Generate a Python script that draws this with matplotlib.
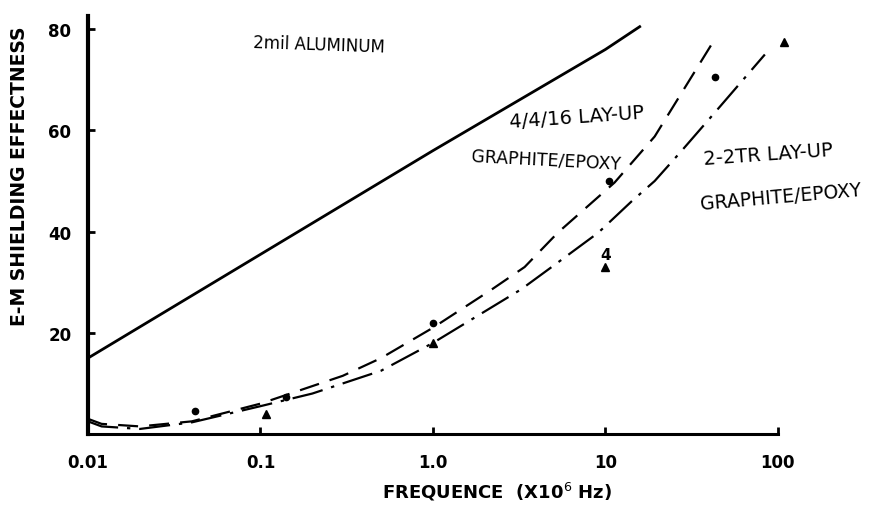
import matplotlib
matplotlib.use('Agg')
import matplotlib.pyplot as plt

# 2 mil aluminum reference line
al_freq = [0.01, 0.1, 1.0, 10, 15.8]
al_se = [15, 35.5, 56, 76, 80.5]

# 4/4/16 lay-up graphite/epoxy (dashed)
lay4_freq = [0.01, 0.012, 0.02, 0.04, 0.1, 0.3, 0.5, 1.0, 2.2, 3.4, 5.3, 11.3, 19.3, 43]
lay4_se = [3.0, 2.0, 1.5, 2.5, 6.0, 11.5, 15.0, 21.0, 28.6, 33.0, 39.8, 49.7, 58.8, 78.0]
lay4_pts_f = [0.042, 0.14, 1.0, 10.5, 43]
lay4_pts_se = [4.5, 7.3, 22.0, 50.0, 70.6]

# 2-2TR lay-up graphite/epoxy (dash-dot)
lay2_freq = [0.01, 0.012, 0.02, 0.04, 0.1, 0.2, 0.5, 1.0, 3.25, 5.3, 9.1, 14.2, 19.3, 27.7, 43, 84]
lay2_se = [2.5, 1.5, 1.0, 2.3, 5.5, 8.0, 12.5, 18.0, 28.6, 33.9, 39.8, 46.0, 50.0, 56.0, 63.5, 75.0]
lay2_pts_f = [0.107, 1.0, 10, 108]
lay2_pts_se = [4.0, 18.0, 33.0, 77.5]

xticks = [0.01, 0.1, 1.0, 10, 100]
xticklabels = ['0.01', '0.1', '1.0', '10', '100']
yticks = [20, 40, 60, 80]

fig = plt.figure(figsize=(8.84, 5.06), dpi=100)
ax = fig.add_axes([0.0995, 0.1403, 0.7805, 0.826])

ax.plot(al_freq, al_se, color='black', lw=2.0, clip_on=False)
ax.plot(lay4_freq, lay4_se, color='black', lw=1.6, dashes=(9, 5), clip_on=False)
ax.plot(lay2_freq, lay2_se, color='black', lw=1.6, dashes=(14, 4, 1.5, 4), clip_on=False)
ax.plot(lay4_pts_f, lay4_pts_se, 'o', color='black', ms=4.5, clip_on=False)
ax.plot(lay2_pts_f, lay2_pts_se, '^', color='black', ms=6, clip_on=False)

ax.set_xscale('log')
ax.set_xlim(0.01, 100)
ax.set_ylim(0, 82.6)
ax.set_xticks(xticks)
ax.set_xticklabels(xticklabels)
ax.minorticks_off()
ax.set_yticks(yticks)
for s in ['top', 'right']:
    ax.spines[s].set_visible(False)
ax.spines['left'].set_linewidth(3)
ax.spines['bottom'].set_linewidth(2.2)
ax.tick_params(direction='in', length=5, width=2, labelsize=12)
ax.tick_params(axis='x', pad=14)
ax.tick_params(axis='y', pad=12)
for lab in ax.get_xticklabels() + ax.get_yticklabels():
    lab.set_fontweight('bold')

ax.set_ylabel('E-M SHIELDING EFFECTNESS', fontsize=13.5, fontweight='bold')
ax.yaxis.set_label_coords(-0.086, 0.62)
ax.set_xlabel('FREQUENCE  (X10$^{6}$ Hz)', fontsize=13, fontweight='bold')
ax.xaxis.set_label_coords(0.593, -0.11)

ax.text(0.09, 77, '2mil ALUMINUM', fontsize=12, rotation=-2, ha='left', va='center')
ax.text(2.77, 62.6, '4/4/16 LAY-UP', fontsize=14, rotation=4, ha='left', va='center')
ax.text(1.66, 54.3, 'GRAPHITE/EPOXY', fontsize=12.5, rotation=-3, ha='left', va='center')
ax.text(37, 55.3, '2-2TR LAY-UP', fontsize=14, rotation=4, ha='left', va='center')
ax.text(35, 47, 'GRAPHITE/EPOXY', fontsize=13.5, rotation=5, ha='left', va='center')
ax.text(10, 35.5, '4', fontsize=11, fontweight='bold', ha='center', va='center')

fig.savefig('out.png', dpi=100)
